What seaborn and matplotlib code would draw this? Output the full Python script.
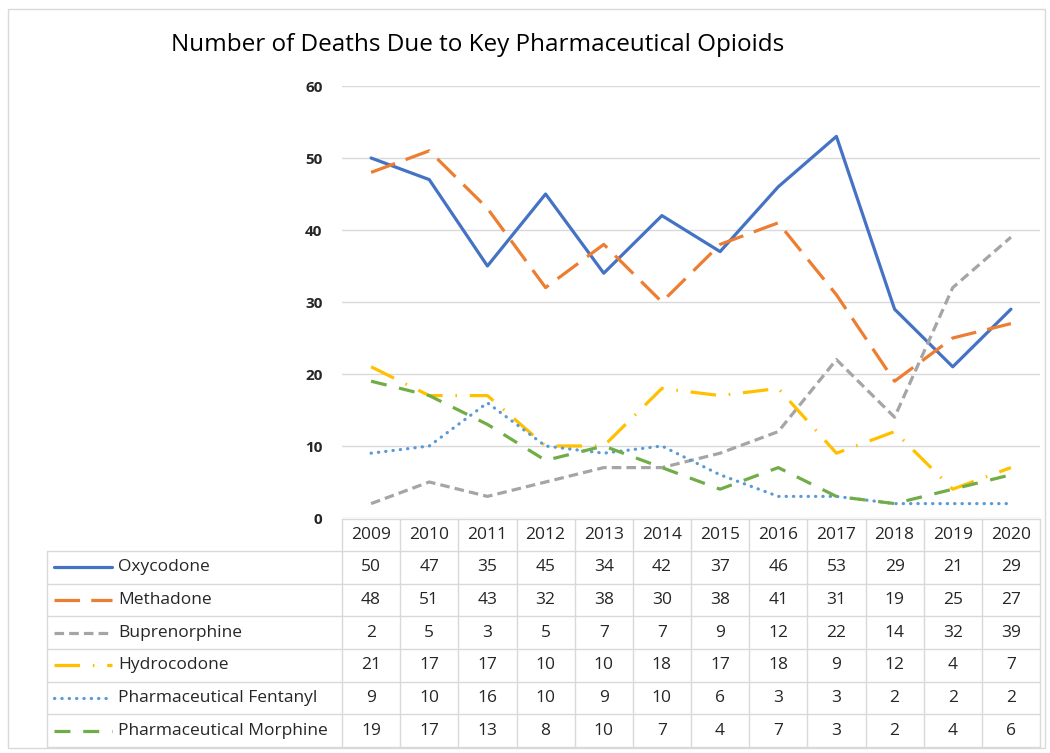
import matplotlib.pyplot as plt
import matplotlib.patches as patches
import pandas as pd
import seaborn as sns

years = [2009, 2010, 2011, 2012, 2013, 2014, 2015, 2016, 2017, 2018, 2019, 2020]
oxycodone = [50, 47, 35, 45, 34, 42, 37, 46, 53, 29, 21, 29]
methadone = [48, 51, 43, 32, 38, 30, 38, 41, 31, 19, 25, 27]
buprenorphine = [2, 5, 3, 5, 7, 7, 9, 12, 22, 14, 32, 39]
hydrocodone = [21, 17, 17, 10, 10, 18, 17, 18, 9, 12, 4, 7]
fentanyl = [9, 10, 16, 10, 9, 10, 6, 3, 3, 2, 2, 2]
morphine = [19, 17, 13, 8, 10, 7, 4, 7, 3, 2, 4, 6]

series_names = ["Oxycodone", "Methadone", "Buprenorphine", "Hydrocodone",
                "Pharmaceutical Fentanyl", "Pharmaceutical Morphine"]
series_values = [oxycodone, methadone, buprenorphine, hydrocodone, fentanyl, morphine]
colors = ["#4472C4", "#ED7D31", "#A5A5A5", "#FFC000", "#5B9BD5", "#70AD47"]
dash_styles = ["", (8, 3.5), (3, 1.6), (8, 4, 0.5, 4), (0.1, 2.2), (5, 4)]

sns.set_style("white")
plt.rcParams["font.family"] = ["Open Sans", "DejaVu Sans"]

# long-form table for seaborn
rows = []
for name, vals in zip(series_names, series_values):
    for i, v in enumerate(vals):
        rows.append({"pos": i, "deaths": v, "drug": name})
df = pd.DataFrame(rows)

W, H = 1050, 753
fig = plt.figure(figsize=(W / 100, H / 100), dpi=100)

# outer chart border
fig.patches.append(patches.Rectangle((8 / W, 1 - 748 / H), 1037 / W, 739 / H,
                                     transform=fig.transFigure, fill=False,
                                     edgecolor="#d9d9d9", linewidth=1))

x0, x1 = 342, 1040
y_top, y_zero = 86, 518
ax = fig.add_axes([x0 / W, 1 - y_zero / H, (x1 - x0) / W, (y_zero - y_top) / H])

palette = dict(zip(series_names, colors))
dashes = dict(zip(series_names, dash_styles))
sns.lineplot(data=df, x="pos", y="deaths", hue="drug", style="drug",
             hue_order=series_names, style_order=series_names,
             palette=palette, dashes=dashes, linewidth=2.3,
             legend=False, ax=ax)
for line in ax.lines:
    line.set_dash_capstyle("round" if line.get_color() == colors[4] else "butt")

ax.set_xlim(-0.5, len(years) - 0.5)
ax.set_ylim(0, 60)
ax.set_yticks(range(0, 61, 10))
ax.set_yticklabels([str(t) for t in range(0, 61, 10)], fontweight="bold",
                   fontsize=11, color="#262626")
ax.tick_params(axis="y", length=0, pad=14)
ax.set_xticks([])
ax.set_xlabel("")
ax.set_ylabel("")
ax.grid(axis="y", color="#d9d9d9", linewidth=1)
for s in ax.spines.values():
    s.set_visible(False)
ax.set_axisbelow(True)

fig.text(478 / W, 1 - 45 / H, "Number of Deaths Due to Key Pharmaceutical Opioids",
         ha="center", va="center", fontsize=17.5, color="#000000")

# data table below the plot, drawn in pixel coordinates
tab = fig.add_axes([0, 0, 1, 1], zorder=-1)
tab.set_xlim(0, W)
tab.set_ylim(H, 0)
tab.axis("off")
grid_c = "#d9d9d9"
txt_c = "#262626"
fs = 12.5
col_w = (x1 - x0) / len(years)
head_top, head_bot = 519, 551
row_h = (747 - head_bot) / len(series_names)
tab_left = 47
table_bottom = head_bot + row_h * len(series_names)

# header row
tab.plot([x0, x1], [head_top, head_top], color=grid_c, lw=1)
for j in range(len(years) + 1):
    xx = x0 + j * col_w
    tab.plot([xx, xx], [head_top, table_bottom], color=grid_c, lw=1)
for j, yr in enumerate(years):
    tab.text(x0 + (j + 0.5) * col_w, (head_top + head_bot) / 2, str(yr),
             ha="center", va="center", fontsize=fs, color=txt_c)
tab.plot([tab_left, tab_left], [head_bot, table_bottom], color=grid_c, lw=1)
for i in range(len(series_names) + 1):
    yy = head_bot + i * row_h
    tab.plot([tab_left, x1], [yy, yy], color=grid_c, lw=1)

for i, (name, vals) in enumerate(zip(series_names, series_values)):
    yc = head_bot + (i + 0.5) * row_h
    ln, = tab.plot([54, 112], [yc, yc], color=colors[i], lw=2.3)
    if dash_styles[i]:
        ln.set_dashes(dash_styles[i])
    ln.set_dash_capstyle("round" if i == 4 else "butt")
    tab.text(118, yc, name, ha="left", va="center", fontsize=fs, color=txt_c)
    for j, v in enumerate(vals):
        tab.text(x0 + (j + 0.5) * col_w, yc, str(v), ha="center", va="center",
                 fontsize=fs, color=txt_c)

fig.savefig("out.png", dpi=100)
